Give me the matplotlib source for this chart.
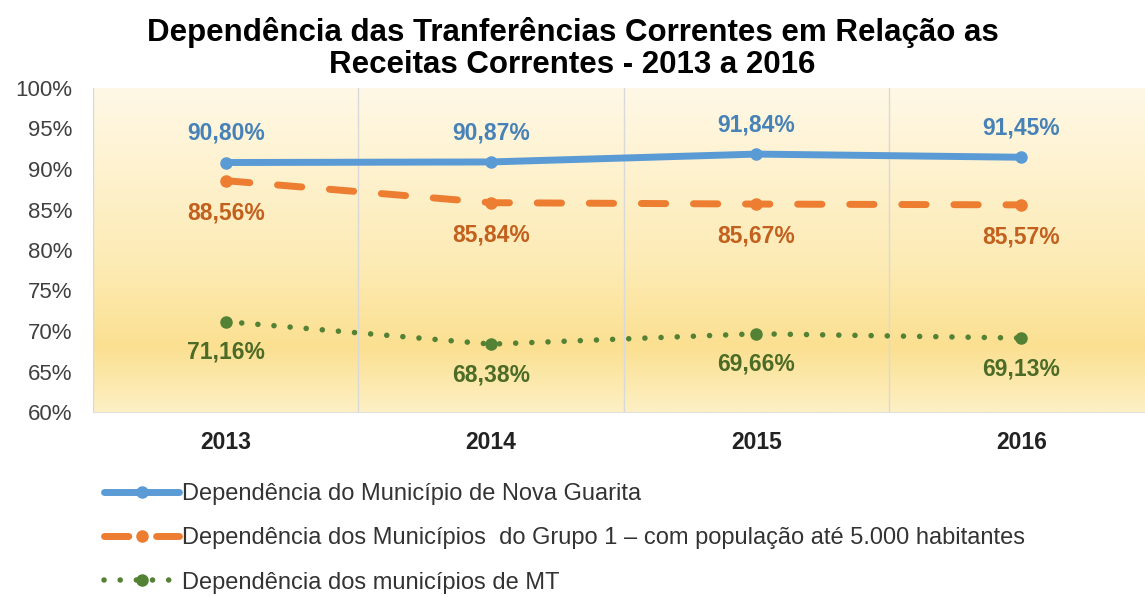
import numpy as np
import matplotlib.pyplot as plt
from matplotlib.colors import LinearSegmentedColormap

years = ["2013", "2014", "2015", "2016"]
nova_guarita = [90.80, 90.87, 91.84, 91.45]
grupo1 = [88.56, 85.84, 85.67, 85.57]
mt = [71.16, 68.38, 69.66, 69.13]
y_ticks = [60, 65, 70, 75, 80, 85, 90, 95, 100]

labels = [
    "Dependência do Município de Nova Guarita",
    "Dependência dos Municípios  do Grupo 1 – com população até 5.000 habitantes",
    "Dependência dos municípios de MT",
]

plt.rcParams['font.family'] = ['Liberation Sans', 'DejaVu Sans']

fig = plt.figure(figsize=(11.45, 5.97), dpi=100)
ax = fig.add_axes([93 / 1145, 1 - 412 / 597, (1154 - 93) / 1145, (412 - 88) / 597])

x = np.arange(len(years))
ax.set_xlim(-0.5, len(years) - 0.5)
ax.set_ylim(60, 100)

# gradient background (light top, golden around 70%, lighter at bottom)
cmap = LinearSegmentedColormap.from_list(
    "bg", [(0.0, "#fdf0c4"), (0.2, "#fbe091"), (0.45, "#fdebb4"), (1.0, "#fff8e6")])
grad = np.linspace(0, 1, 256).reshape(-1, 1)
ax.imshow(grad, extent=[-0.5, len(years) - 0.5, 60, 100], origin="lower",
          aspect="auto", cmap=cmap, zorder=0)

blue, orange, green = "#5b9bd5", "#ed7d31", "#548235"
l1, = ax.plot(x, nova_guarita, color=blue, lw=5, solid_capstyle="round",
              marker="o", ms=8, zorder=3)
l2, = ax.plot(x, grupo1, color=orange, lw=5, dashes=(3.5, 4.0), dash_capstyle="round",
              marker="o", ms=8, zorder=3)
l3, = ax.plot(x, mt, color=green, lw=4, dashes=(0.01, 2.9), dash_capstyle="round",
              marker="o", ms=8, zorder=3)

def fmt(v):
    return f"{v:.2f}%".replace(".", ",")

for xi, v in zip(x, nova_guarita):
    ax.annotate(fmt(v), (xi, v), xytext=(0, 21), textcoords="offset points",
                ha="center", va="center", fontsize=16.5, fontweight="bold", color="#4682b8")
for xi, v in zip(x, grupo1):
    ax.annotate(fmt(v), (xi, v), xytext=(0, -23), textcoords="offset points",
                ha="center", va="center", fontsize=16.5, fontweight="bold", color="#c2601e")
for xi, v in zip(x, mt):
    ax.annotate(fmt(v), (xi, v), xytext=(0, -22), textcoords="offset points",
                ha="center", va="center", fontsize=16.5, fontweight="bold", color="#4b6b26")

ax.set_yticks(y_ticks)
ax.set_yticklabels([f"{t}%" for t in y_ticks], fontsize=16, color="#404040")
ax.set_xticks(x)
ax.set_xticklabels(years, fontsize=16.5, fontweight="bold", color="#222222")
ax.tick_params(axis="both", length=0)
ax.tick_params(axis="y", pad=15)
ax.tick_params(axis="x", pad=14)

ax.set_xticks(np.arange(-0.5, len(years)), minor=True)
ax.grid(which="minor", axis="x", color="#d9d9d9", lw=1)
ax.tick_params(which="minor", length=0)
for s in ["top", "right", "left"]:
    ax.spines[s].set_visible(False)
ax.spines["bottom"].set_color("#e0e0e0")

fig.text(0.5, 0.972, "Dependência das Tranferências Correntes em Relação as\n"
         "Receitas Correntes - 2013 a 2016", ha="center", va="top",
         fontsize=22.5, fontweight="bold", linespacing=1.1)

fig.legend([l1, l2, l3], labels, loc="upper left", bbox_to_anchor=(92 / 1145, 1 - 471 / 597),
           frameon=False, fontsize=17, handlelength=3.2, labelspacing=0.95,
           handletextpad=0.1, labelcolor="#333333", borderpad=0)

fig.savefig("out.png", dpi=100)
